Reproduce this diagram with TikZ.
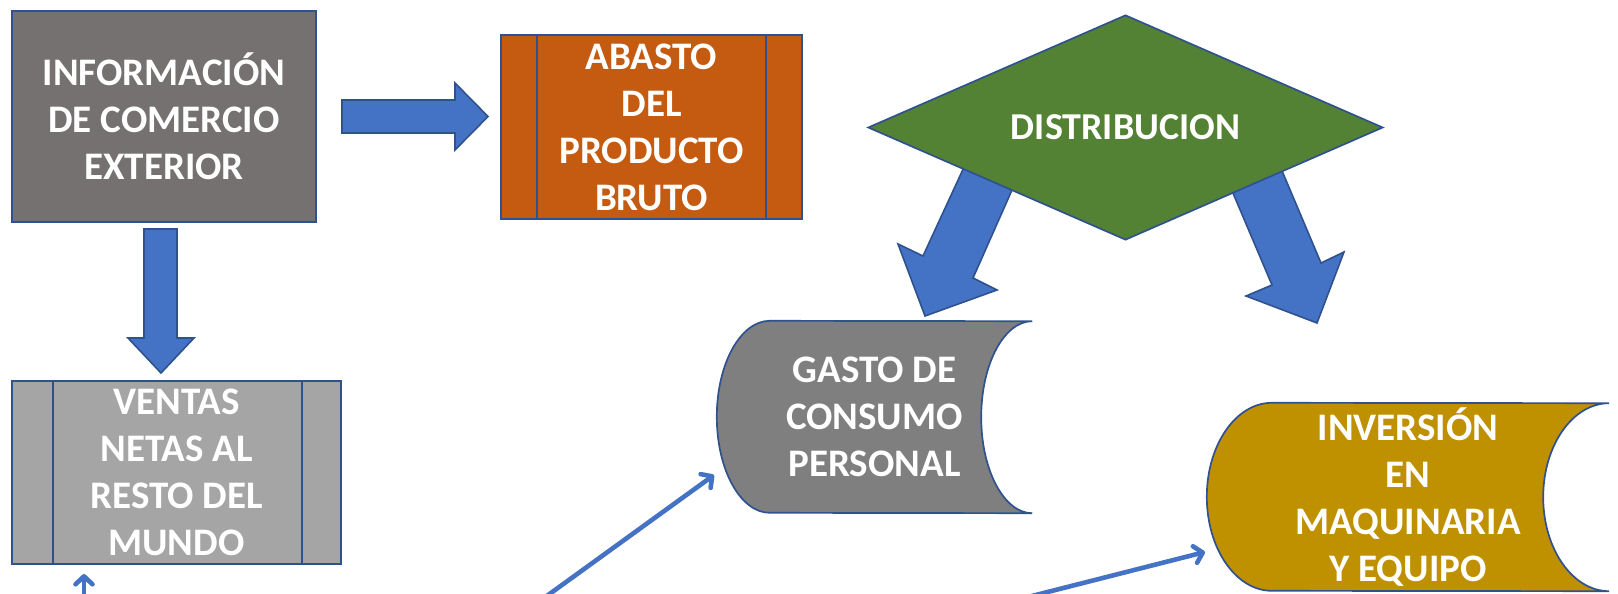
\documentclass[tikz,border=0pt]{standalone}
\usepackage{fontspec}
\setmainfont{Carlito}
\usetikzlibrary{shapes.geometric,arrows.meta,backgrounds}
\definecolor{edge}{HTML}{2F528F}
\definecolor{arrowblue}{HTML}{4472C4}
\definecolor{infoc}{HTML}{767171}
\definecolor{abastoc}{HTML}{C55A11}
\definecolor{ventasc}{HTML}{A5A5A5}
\definecolor{distc}{HTML}{548235}
\definecolor{gastoc}{HTML}{7F7F7F}
\definecolor{invc}{HTML}{BF9000}
\begin{document}
\begin{tikzpicture}[x=1pt,y=-1pt,
  txt/.style={text=white, font=\fontsize{39}{47}\selectfont\bfseries, align=center, inner sep=0pt},
  box/.style={txt, draw=edge, line width=1.7pt},
  edgeline/.style={draw=edge, line width=1.7pt},
  blockarr/.style={fill=arrowblue, draw=edge, line width=1.6pt, line join=miter},
  thinarrow/.style={draw=arrowblue, line width=4.6pt, line cap=round, -{Straight Barb[length=8pt,width=17pt,round]}}]
\useasboundingbox (0,0) rectangle (1618,594);

% boxes
\node[box, fill=infoc, minimum width=304pt, minimum height=211pt] (info) at (164,116.5) {INFORMACIÓN\\DE COMERCIO\\EXTERIOR};
\node[box, fill=abastoc, minimum width=301pt, minimum height=184pt] (abasto) at (651.5,127) {ABASTO\\DEL\\PRODUCTO\\BRUTO};
\draw[edgeline] ([xshift=37pt]abasto.north west) -- ([xshift=37pt]abasto.south west);
\draw[edgeline] ([xshift=-37pt]abasto.north east) -- ([xshift=-37pt]abasto.south east);
\node[box, fill=ventasc, minimum width=329pt, minimum height=183pt] (ventas) at (176.5,472.5) {VENTAS\\NETAS AL\\RESTO DEL\\MUNDO};
\draw[edgeline] ([xshift=42pt]ventas.north west) -- ([xshift=42pt]ventas.south west);
\draw[edgeline] ([xshift=-40pt]ventas.north east) -- ([xshift=-40pt]ventas.south east);

\node[txt, diamond, draw=edge, line width=1.7pt, fill=distc, minimum width=515pt, minimum height=225pt, aspect=2.3, font=\fontsize{38}{47}\selectfont\bfseries] (dist) at (1125.5,127.5) {DISTRIBUCION};

\node[txt, minimum width=315pt, minimum height=192pt] (gasto) at (874.5,417) {GASTO DE\\CONSUMO\\PERSONAL};
\node[txt, minimum width=402pt, minimum height=188pt] (inv) at (1408,497) {INVERSIÓN\\EN\\MAQUINARIA\\Y EQUIPO};

\begin{scope}[on background layer]
  % cylinders
  \draw[edgeline, fill=gastoc] ([xshift=53pt]gasto.north west)
     arc[start angle=90, end angle=270, x radius=53pt, y radius=96pt]
     -- (gasto.south east)
     arc[start angle=270, end angle=90, x radius=51pt, y radius=96pt]
     -- cycle;
  \draw[edgeline, fill=invc] ([xshift=65pt]inv.north west)
     arc[start angle=90, end angle=270, x radius=65pt, y radius=94pt]
     -- (inv.south east)
     arc[start angle=270, end angle=90, x radius=66pt, y radius=94pt]
     -- cycle;
  % block arrows
  \draw[blockarr] (342,100) -- (455,100) -- (455,83) -- (488,116.5) -- (455,150) -- (455,133) -- (342,133) -- cycle;
  \draw[blockarr] (144,229) -- (177,229) -- (177,338) -- (194,338) -- (161,373) -- (128,338) -- (144,338) -- cycle;
  \draw[blockarr] (971,152) -- (923,256) -- (898,244) -- (925,316) -- (997,290) -- (973,278) -- (1020,172) -- cycle;
  \draw[blockarr] (1227,179) -- (1272,285) -- (1246,296) -- (1317,323) -- (1344,252) -- (1321,263) -- (1277,159) -- cycle;
\end{scope}

% thin arrows
\coordinate (s1) at (544,598);
\coordinate (t1) at (714,475);
\coordinate (s2) at (1024,598);
\coordinate (t2) at (1205,552);
\coordinate (s3) at (84,598);
\coordinate (t3) at (84,574);
\draw[thinarrow] (s1) -- (t1);
\draw[thinarrow] (s2) -- (t2);
\draw[thinarrow] (s3) -- (t3);
\end{tikzpicture}
\end{document}
